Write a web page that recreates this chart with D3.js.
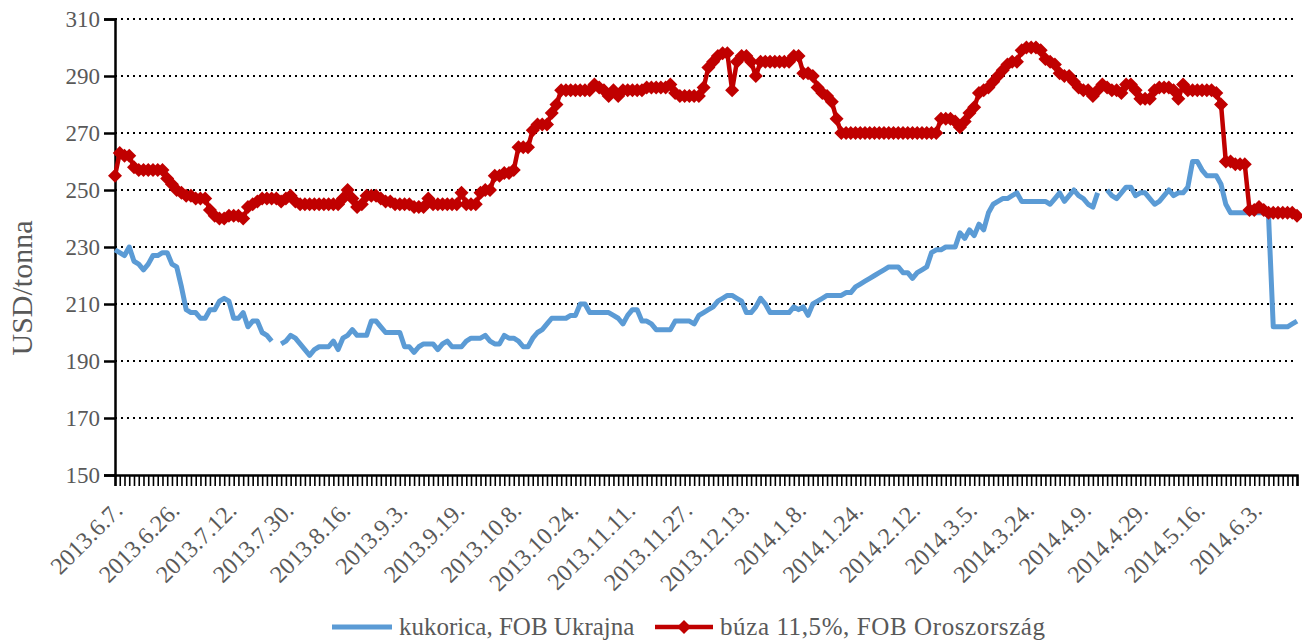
<!DOCTYPE html>
<html>
<head>
<meta charset="utf-8">
<script src="https://cdn.jsdelivr.net/npm/d3@7"></script>
<style>
  body { margin: 0; background: #fff; }
  svg text { font-family: "Liberation Serif", "Times New Roman", serif; fill: #595959; }
</style>
</head>
<body>
<svg id="chart" width="1302" height="644"></svg>
<script>
// tick labels, one every 12 trading days
var tickLabels = ["2013.6.7.", "2013.6.26.", "2013.7.12.", "2013.7.30.", "2013.8.16.", "2013.9.3.",
  "2013.9.19.", "2013.10.8.", "2013.10.24.", "2013.11.11.", "2013.11.27.", "2013.12.13.",
  "2014.1.8.", "2014.1.24.", "2014.2.12.", "2014.3.5.", "2014.3.24.", "2014.4.9.",
  "2014.4.29.", "2014.5.16.", "2014.6.3."];
var labelEvery = 12;

// búza 11,5%, FOB Oroszország (USD/tonna)
var wheat = [
  255,263,262,262,258,257,257,257,257,257, 257,254,252,250,249,248,248,247,247,247,
  243,241,240,240,241,241,241,240,244,245, 246,247,247,247,247,246,247,248,246,245,
  245,245,245,245,245,245,245,245,247,250, 247,244,245,248,248,248,247,246,246,245,
  245,245,245,244,244,244,247,245,245,245, 245,245,245,249,245,245,245,249,250,250,
  255,255,256,256,257,265,265,265,271,273, 273,273,277,280,285,285,285,285,285,285,
  285,287,286,285,283,285,283,285,285,285, 285,285,286,286,286,286,286,287,284,283,
  283,283,283,283,286,293,295,297,298,298, 285,295,297,297,295,290,295,295,295,295,
  295,295,295,297,297,291,291,290,286,284, 283,281,275,270,270,270,270,270,270,270,
  270,270,270,270,270,270,270,270,270,270, 270,270,270,270,275,275,275,274,272,274,
  277,279,284,285,286,288,290,292,294,295, 295,299,300,300,300,299,296,295,294,291,
  290,290,288,286,285,285,283,285,287,286, 285,285,284,287,287,285,282,282,282,285,
  286,286,286,285,282,287,285,285,285,285, 285,285,284,280,260,260,259,259,259,243,
  243,244,243,242,242,242,242,242,242,241
];

// kukorica, FOB Ukrajna (USD/tonna), null = no quote
var corn = [
  229,228,227,230,225,224,222,224,227,227, 228,228,224,223,216,208,207,207,205,205,
  208,208,211,212,211,205,205,207,202,204, 204,200,199,197,null,196,197,199,198,196,
  194,192,194,195,195,195,197,194,198,199, 201,199,199,199,204,204,202,200,200,200,
  200,195,195,193,195,196,196,196,194,196, 197,195,195,195,197,198,198,198,199,197,
  196,196,199,198,198,197,195,195,198,200, 201,203,205,205,205,205,206,206,210,210,
  207,207,207,207,207,206,205,203,206,208, 208,204,204,203,201,201,201,201,204,204,
  204,204,203,206,207,208,209,211,212,213, 213,212,211,207,207,209,212,210,207,207,
  207,207,207,209,208,209,206,210,211,212, 213,213,213,213,214,214,216,217,218,219,
  220,221,222,223,223,223,221,221,219,221, 222,223,228,229,229,230,230,230,235,233,
  236,234,238,236,242,245,246,247,247,248, 249,246,246,246,246,246,246,245,247,249,
  246,248,250,248,247,245,244,249,null,250, 248,247,249,251,251,248,249,249,247,245,
  246,248,250,248,249,249,251,260,260,257, 255,255,255,252,245,242,242,242,242,242,
  242,242,242,241,202,202,202,202,203,204
];

var yTicks = [150, 170, 190, 210, 230, 250, 270, 290, 310];

var cornColor = "#5B9BD5", wheatColor = "#C00000";

var svg = d3.select("#chart");
var plotLeft = 115, plotRight = 1297, plotTop = 19, plotBottom = 475;

var x = d3.scalePoint().domain(d3.range(wheat.length)).range([plotLeft, plotRight]);
var y = d3.scaleLinear().domain([150, 310]).range([plotBottom, plotTop]);

// dotted gridlines
svg.append("g").selectAll("line").data(yTicks.slice(1)).enter().append("line")
  .attr("x1", plotLeft).attr("x2", plotRight)
  .attr("y1", function(d){ return y(d); }).attr("y2", function(d){ return y(d); })
  .attr("stroke", "#000").attr("stroke-width", 2).attr("stroke-dasharray", "2,4");

// y axis
var yAxis = svg.append("g").attr("transform", "translate(" + plotLeft + ",0)")
  .call(d3.axisLeft(y).tickValues(yTicks).tickSize(11).tickPadding(4).tickFormat(d3.format("d")));
yAxis.select(".domain").attr("stroke", "#000").attr("stroke-width", 2.5);
yAxis.selectAll(".tick line").attr("stroke", "#000").attr("stroke-width", 2.5);
yAxis.selectAll("text").style("font-size", "23px").style("fill", "#595959");

// x axis: tick at every category, label every 12th
var xAxis = svg.append("g").attr("transform", "translate(0," + plotBottom + ")")
  .call(d3.axisBottom(x).tickSize(11).tickFormat(""));
xAxis.select(".domain").attr("stroke", "#000").attr("stroke-width", 2.5);
xAxis.selectAll(".tick line").attr("stroke", "#000").attr("stroke-width", 1.6);

svg.append("g").selectAll("text").data(tickLabels).enter().append("text")
  .attr("transform", function(d, i){
    return "translate(" + (x(i * labelEvery) + 9) + "," + (plotBottom + 37) + ") rotate(-45)";
  })
  .attr("text-anchor", "end")
  .style("font-size", "24px")
  .text(function(d){ return d; });

// y axis title
svg.append("text")
  .attr("transform", "translate(32,288) rotate(-90)")
  .attr("text-anchor", "middle")
  .style("font-size", "30px")
  .text("USD/tonna");

// series
var line = d3.line()
  .defined(function(d){ return d != null; })
  .x(function(d, i){ return x(i); })
  .y(function(d){ return y(d); });

svg.append("path").datum(corn)
  .attr("fill", "none").attr("stroke", cornColor).attr("stroke-width", 5)
  .attr("stroke-linejoin", "round")
  .attr("d", line);

svg.append("path").datum(wheat)
  .attr("fill", "none").attr("stroke", wheatColor).attr("stroke-width", 4.5)
  .attr("stroke-linejoin", "round")
  .attr("d", line);

var diamond = "M0,-7L7,0L0,7L-7,0Z";
svg.append("g").selectAll("path").data(wheat).enter().append("path")
  .attr("transform", function(d, i){ return "translate(" + x(i) + "," + y(d) + ")"; })
  .attr("d", diamond)
  .attr("fill", wheatColor);

// legend
var leg = svg.append("g").attr("transform", "translate(0,627)");
leg.append("line").attr("x1", 332).attr("x2", 392).attr("y1", 0).attr("y2", 0)
  .attr("stroke", cornColor).attr("stroke-width", 5);
leg.append("text").attr("x", 399).attr("y", 8).style("font-size", "25px").text("kukorica, FOB Ukrajna");
leg.append("line").attr("x1", 655).attr("x2", 713).attr("y1", 0).attr("y2", 0)
  .attr("stroke", wheatColor).attr("stroke-width", 4.5);
leg.append("path").attr("transform", "translate(684,0)").attr("d", diamond).attr("fill", wheatColor);
leg.append("text").attr("x", 720).attr("y", 8).style("font-size", "25px").style("letter-spacing", "0.6px")
  .text("búza 11,5%, FOB Oroszország");
</script>
</body>
</html>
